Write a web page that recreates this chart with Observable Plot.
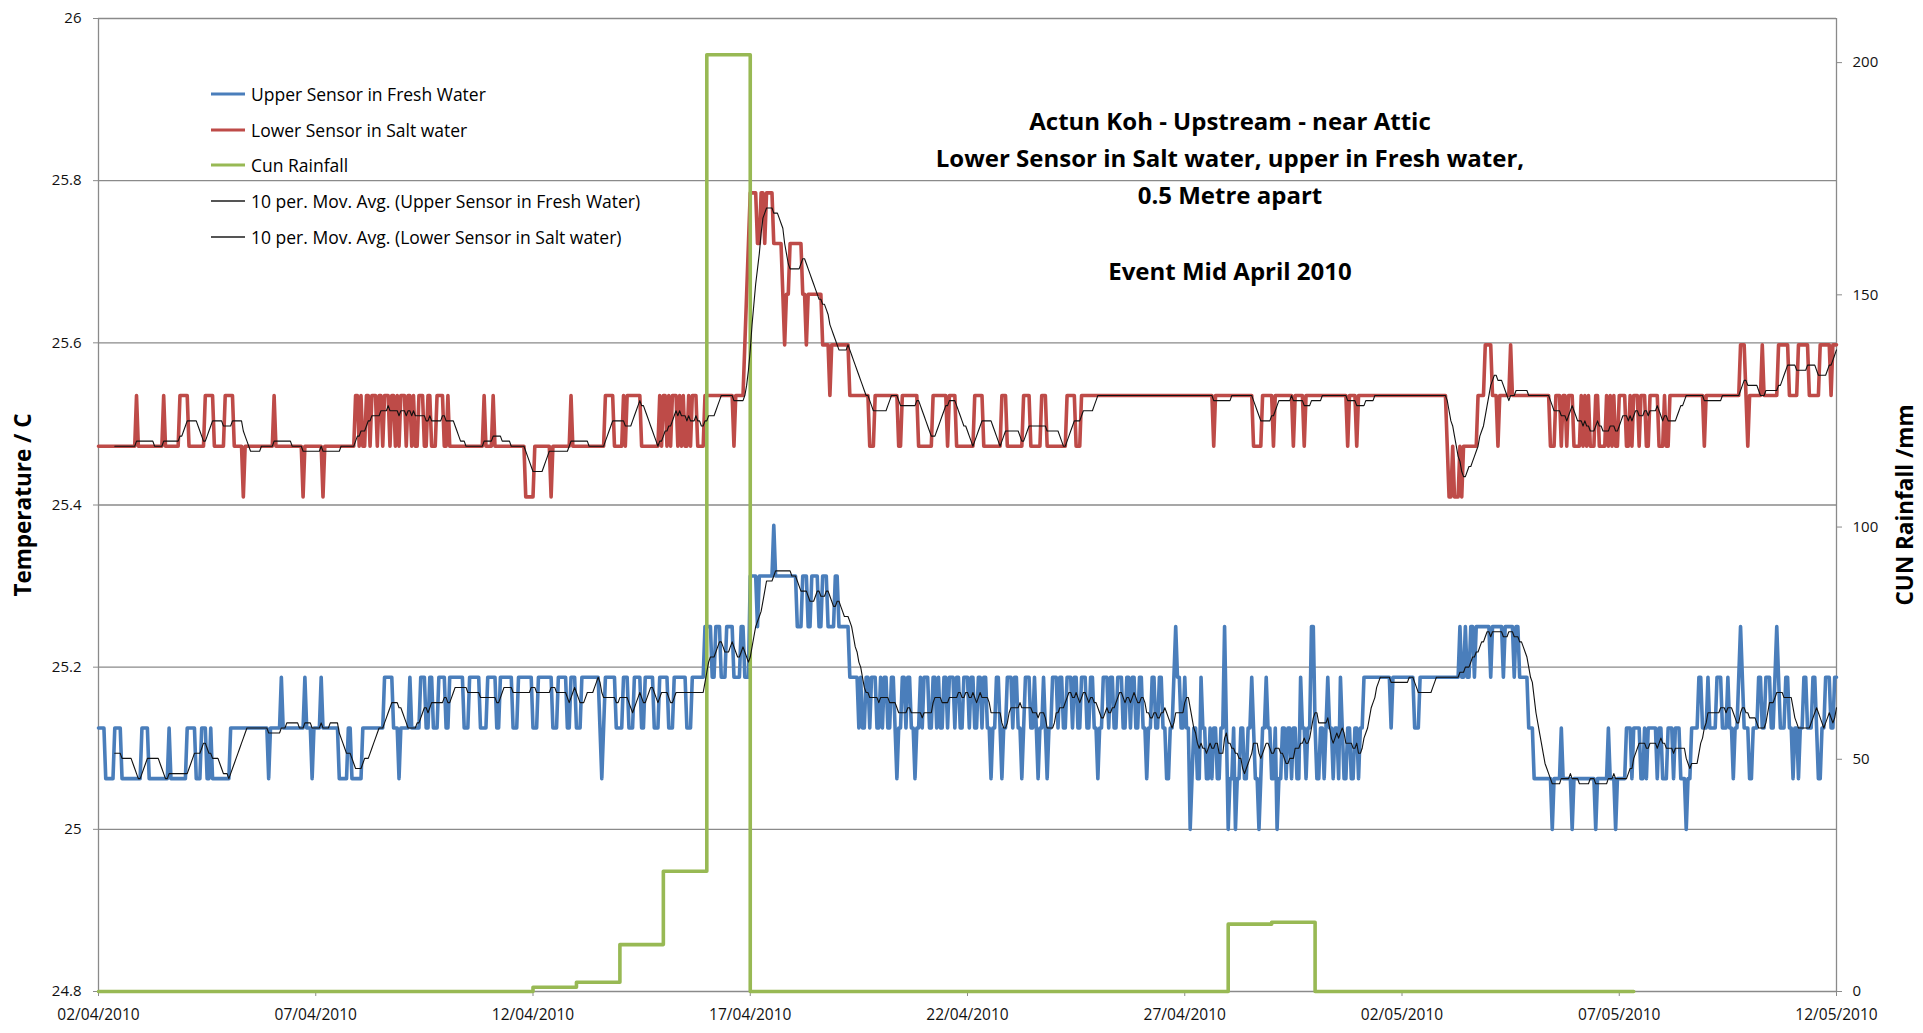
<!DOCTYPE html>
<html>
<head>
<meta charset="utf-8">
<script src="https://cdn.jsdelivr.net/npm/d3@7"></script>
<script src="https://cdn.jsdelivr.net/npm/@observablehq/plot@0.6"></script>
<style>
  html, body { margin: 0; padding: 0; background: #fff; overflow: hidden; }
  #wrap { position: relative; width: 1923px; height: 1033px; font-family: "Open Sans", Lato, sans-serif; color: #000; }
  .lg { position: absolute; left: 211px; height: 0; font-size: 17.5px; }
  .lg .sw { position: absolute; left: 0; width: 34px; height: 3px; transform: translateY(-50%); }
  .lg .tx { position: absolute; left: 40px; white-space: nowrap; transform: translateY(-50%); }
  .tt { position: absolute; left: 1230px; transform: translate(-50%, -50%); font-weight: 700; font-size: 24px; white-space: nowrap; }
</style>
</head>
<body>
<div id="wrap"></div>
<script>
// ---------------- DATA ----------------
const startDate = "2010-04-02T00:00Z";   // first hourly sample
const endDate = "2010-05-12T00:00Z";     // axis end
const tickDates = ["2010-04-02","2010-04-07","2010-04-12","2010-04-17","2010-04-22","2010-04-27","2010-05-02","2010-05-07","2010-05-12"];
const tempTicks = [24.8, 25, 25.2, 25.4, 25.6, 25.8, 26];
const rainTicks = [0, 50, 100, 150, 200];
const rainMax = 209.5;

// sensor quantisation levels (°C)
const upperLevels = [25.0, 25.0625, 25.125, 25.1875, 25.25, 25.3125, 25.375];
const lowerLevels = [25.41, 25.4725, 25.535, 25.5975, 25.66, 25.7225, 25.785];

// hourly readings as runs: [level index, number of hours]
const upperRuns = [
 [2,4],[1,5],[2,4],[1,11],[2,4],[1,11],[2,1],[1,9],[2,5],[1,3],[2,3],[1,2],[2,1],[1,10],
 [2,21],[1,1],[2,6],[3,1],[2,12],[3,1],[2,3],[1,1],[2,4],[3,1],[2,9],[1,5],[2,2],[1,6],[2,12],[3,5],[2,3],[1,1],[2,5],[3,1],[2,5],
 [3,3],[2,2],[3,2],[2,3],[3,4],[2,2],[3,8],[2,3],[3,6],[2,4],[3,5],[2,2],[3,7],[2,3],[3,8],[2,3],[3,8],[2,3],[3,5],[2,2],[3,3],[2,3],
 [3,10],[2,1],[1,1],[2,1],[3,6],[2,4],[3,3],[2,3],[3,4],[2,2],[3,5],[2,3],[3,5],[2,3],[3,7],[2,3],[3,7],
 [4,4],[3,2],[4,3],[3,3],[4,4],[3,4],[4,2],[3,3],[5,4],[4,1],[5,8],[6,1],[5,12],[4,3],[5,3],[4,2],[5,4],[4,2],[5,3],[4,4],[5,2],[4,6],[3,3],
 [3,2],[2,1],[3,1],[2,2],[3,2],[2,1],[3,3],[2,2],[3,1],[2,1],[3,2],[2,2],[3,2],[2,1],[1,1],[2,2],[3,2],[2,1],[3,2],[2,2],[1,1],
 [2,2],[3,1],[2,1],[3,3],[2,2],[3,2],[2,1],[3,1],[2,2],[3,2],[2,1],[3,3],[2,1],[3,2],[2,2],[3,3],[2,1],[3,2],[2,2],[3,2],[2,1],[3,2],[2,2],[1,1],
 [2,2],[3,2],[2,1],[1,1],[2,2],[3,3],[2,1],[3,2],[2,2],[1,1],[2,1],[3,3],[2,2],[3,1],[2,1],[1,1],[2,2],[3,1],[2,1],[1,1],
 [2,2],[3,3],[2,1],[3,2],[2,2],[3,3],[2,1],[3,2],[2,2],[3,3],[2,2],[3,2],[2,2],[1,1],[2,2],[3,3],[2,1],[3,2],[2,2],[3,3],[2,2],[3,2],[2,1],[3,2],[2,2],[3,2],[2,2],[1,1],
 [2,2],[3,2],[2,2],[3,2],[2,2],[1,2],[2,2],[3,1],[4,1],[3,2],[2,2],[3,1],[2,2],[0,1],[1,1],[2,1],
 [2,1],[1,2],[3,1],[2,2],[1,2],[2,1],[1,1],[2,2],[1,2],[2,2],[4,1],[2,1],[0,1],[1,2],[2,1],[0,1],[1,2],[2,2],[1,2],[2,2],[3,1],[2,1],[1,2],[0,1],[1,1],[2,2],[3,1],
 [2,2],[1,2],[2,1],[0,1],[1,2],[2,2],[1,1],[2,2],[1,1],[2,2],[1,2],[3,1],[2,2],[1,1],[2,2],[4,2],[2,1],[1,2],[2,2],[1,1],[2,1],[3,1],[2,2],[1,1],[2,2],[1,1],[3,1],
 [2,1],[1,2],[2,2],[1,2],[2,2],[1,1],[2,2],[3,2],
 [3,13],[2,1],[3,12],[2,3],[3,22],[4,1],[3,2],[4,1],[3,2],[4,2],[3,1],[4,8],[3,1],[4,6],[3,1],[4,5],[3,1],[4,2],[3,5],[2,3],
 [1,10],[0,1],[1,4],[2,1],[1,5],[0,1],[1,12],[0,1],[1,6],[2,1],[1,3],[0,1],[1,5],[2,3],[1,1],[2,4],[1,2],[2,1],[1,1],[2,5],[1,1],[2,2],[1,3],[2,3],[1,1],[2,3],[1,3],[0,1],[1,2],
 [2,4],[3,2],[2,3],[3,1],[2,4],[3,3],[2,3],[3,1],[2,2],[1,1],[2,2],[3,1],[4,1],[3,1],[2,3],[1,2],[2,3],[3,2],[2,2],[3,3],[2,2],[3,1],[4,1],[3,1],[2,3],[3,2],[2,2],[1,1],
 [2,2],[1,1],[2,2],[3,2],[2,3],[3,2],[2,1],[1,2],[2,2],[3,3],[2,2],[3,2]
];
const lowerRuns = [
 [1,21],[2,1],[1,14],[2,1],[1,8],[2,5],[1,9],[2,5],[1,6],[2,5],[1,5],[0,1],[1,16],[2,1],[1,15],[0,1],[1,10],[0,1],[1,17],
 [2,2],[1,1],[2,1],[1,2],[2,2],[1,1],[2,3],[1,1],[2,2],[1,1],[2,3],[1,1],[2,2],[1,1],[2,1],[1,1],[2,3],[1,1],[2,2],[1,1],[2,1],[1,2],[2,3],[1,2],[2,2],[1,3],[2,4],[1,2],
 [2,1],[1,19],[2,1],[1,4],[2,1],[1,17],[0,5],[1,9],[0,1],[1,10],[2,1],[1,18],[2,5],[1,5],[2,1],[1,1],[2,8],[1,10],
 [2,1],[1,1],[2,2],[1,1],[2,1],[1,1],[2,3],[1,1],[2,1],[1,1],[2,1],[1,2],[2,1],[1,1],[2,3],[1,4],[2,16],[1,1],[2,5],
 [3,1],[4,1],[5,1],[6,4],[5,2],[6,2],[5,1],[6,4],[5,5],[4,1],[3,1],[4,2],[5,7],[4,2],[3,1],[4,8],[3,4],[2,1],[3,10],
 [2,11],[1,3],[2,13],[1,2],[2,9],[1,8],[2,8],[1,1],[2,4],[1,10],[2,5],[1,10],[2,3],[1,9],[2,4],[1,6],[2,3],[1,11],[2,5],[1,3],[2,12],
 [2,61],[1,1],[2,21],[1,5],[2,6],[1,1],[2,10],[1,1],[2,5],[1,1],[2,23],[1,1],[2,4],[1,1],[2,49],
 [1,1],[0,2],[1,1],[0,3],[1,1],[0,1],[1,8],[2,4],[3,4],[2,3],[1,1],[2,6],[3,1],[2,21],
 [1,3],[2,3],[1,1],[2,2],[1,1],[2,3],[1,4],[2,1],[1,1],[2,1],[1,1],[2,1],[1,3],[2,2],[1,4],[2,1],[1,1],[2,1],[1,1],[2,1],[1,2],[2,4],[1,2],[2,1],[1,1],[2,3],[1,1],[2,3],[1,2],[2,5],[1,3],[2,1],[1,2],
 [2,19],[1,1],[2,19],[3,3],[2,1],[1,1],[2,7],[3,1],[2,8],[3,6],[2,5],[3,6],[2,6],[3,6],[2,1],[3,3]
];

// daily cumulative rainfall (mm)
const rainDates = ["2010-04-02","2010-04-12","2010-04-13","2010-04-14","2010-04-15","2010-04-16","2010-04-17","2010-04-28","2010-04-29","2010-04-30","2010-05-07T08:00Z"];
const rainValues = [0, 0.9, 2.0, 10.1, 25.9, 201.7, 0, 14.5, 14.9, 0, 0];

const axisTitleLeft = "Temperature / C";
const axisTitleRight = "CUN Rainfall /mm";

// ---------------- BUILD ----------------
const t0 = new Date(startDate).getTime();
function expand(runs, levels) {
  const out = []; let h = 0;
  for (const [li, n] of runs) for (let i = 0; i < n; i++) { out.push({date: new Date(t0 + h * 3600e3), value: levels[li]}); h++; }
  return out;
}
const upper = expand(upperRuns, upperLevels);
const lower = expand(lowerRuns, lowerLevels);
const rain = rainDates.map((d, i) => ({date: new Date(d.length === 10 ? d + "T00:00Z" : d), value: rainValues[i]}));

const yLo = tempTicks[0], yHi = tempTicks[tempTicks.length - 1];
const toY = v => yLo + v * (yHi - yLo) / rainMax;
const fromY = y => (y - yLo) * rainMax / (yHi - yLo);
const xDomain = [new Date(startDate), new Date(endDate)];
const xTicks = tickDates.map(d => new Date(d + "T00:00Z"));
const gray = "#8a8a8a";

const chart = Plot.plot({
  width: 1923, height: 1033,
  marginLeft: 98, marginRight: 87, marginTop: 18, marginBottom: 42,
  x: {type: "utc", domain: xDomain, label: null},
  y: {domain: [yLo, yHi], label: null},
  style: {fontFamily: "'Open Sans', Lato, sans-serif", fontSize: "15px", color: "#000", background: "#fff"},
  marks: [
    Plot.gridY(tempTicks, {stroke: gray, strokeOpacity: 1, strokeWidth: 1.3}),
    Plot.ruleX(xDomain, {stroke: gray, strokeWidth: 1.3}),
    Plot.axisY(tempTicks, {anchor: "left", tickSize: 5, tickPadding: 12, stroke: gray, fill: "#111", fontSize: 15,
      tickFormat: d => String(+d.toFixed(1)), label: null}),
    Plot.axisY(rainTicks.map(toY), {anchor: "right", tickSize: 5, tickPadding: 11, stroke: gray, fill: "#111", fontSize: 15,
      tickFormat: d => String(Math.round(fromY(d))), label: null}),
    Plot.axisX(xTicks, {anchor: "bottom", tickSize: 5, tickPadding: 12, stroke: gray, fill: "#111", fontSize: 15.5,
      tickFormat: d3.utcFormat("%d/%m/%Y"), label: null}),
    Plot.text([axisTitleLeft], {frameAnchor: "left", textAnchor: "middle", dx: -75, rotate: -90, fontWeight: 700, fontSize: 22.5, fill: "#000"}),
    Plot.text([axisTitleRight], {frameAnchor: "right", textAnchor: "middle", dx: 69, rotate: -90, fontWeight: 700, fontSize: 22.5, fill: "#000"}),
    Plot.line(upper, {x: "date", y: "value", stroke: "#4A7EBB", strokeWidth: 3.6, strokeLinejoin: "round"}),
    Plot.line(lower, {x: "date", y: "value", stroke: "#BE4B48", strokeWidth: 3.6, strokeLinejoin: "round"}),
    Plot.line(rain, {x: "date", y: d => toY(d.value), curve: "step-after", stroke: "#98B954", strokeWidth: 3.6}),
    Plot.line(upper, Plot.windowY({k: 10, anchor: "end", strict: true}, {x: "date", y: "value", stroke: "#111", strokeWidth: 1.1})),
    Plot.line(lower, Plot.windowY({k: 10, anchor: "end", strict: true}, {x: "date", y: "value", stroke: "#111", strokeWidth: 1.1}))
  ]
});

const wrap = document.getElementById("wrap");
wrap.appendChild(chart);

// legend
const legendItems = [
  ["Upper Sensor in Fresh Water", "#4A7EBB", 94],
  ["Lower Sensor in Salt water", "#BE4B48", 130],
  ["Cun Rainfall", "#98B954", 165],
  ["10 per. Mov. Avg. (Upper Sensor in Fresh Water)", "#555", 201],
  ["10 per. Mov. Avg. (Lower Sensor in Salt water)", "#555", 237]
];
for (const [label, color, y] of legendItems) {
  const d = document.createElement("div");
  d.className = "lg"; d.style.top = y + "px";
  d.innerHTML = `<div class="sw" style="background:${color};${color === "#555" ? "height:2px" : ""}"></div><div class="tx"></div>`;
  d.querySelector(".tx").textContent = label;
  wrap.appendChild(d);
}
// title block
const titleLines = [
  ["Actun Koh - Upstream - near Attic", 120],
  ["Lower Sensor in Salt water, upper in Fresh water,", 157],
  ["0.5 Metre apart", 194],
  ["Event Mid April 2010", 270]
];
for (const [t, y] of titleLines) {
  const d = document.createElement("div");
  d.className = "tt"; d.style.top = y + "px"; d.textContent = t;
  wrap.appendChild(d);
}
</script>
</body>
</html>
